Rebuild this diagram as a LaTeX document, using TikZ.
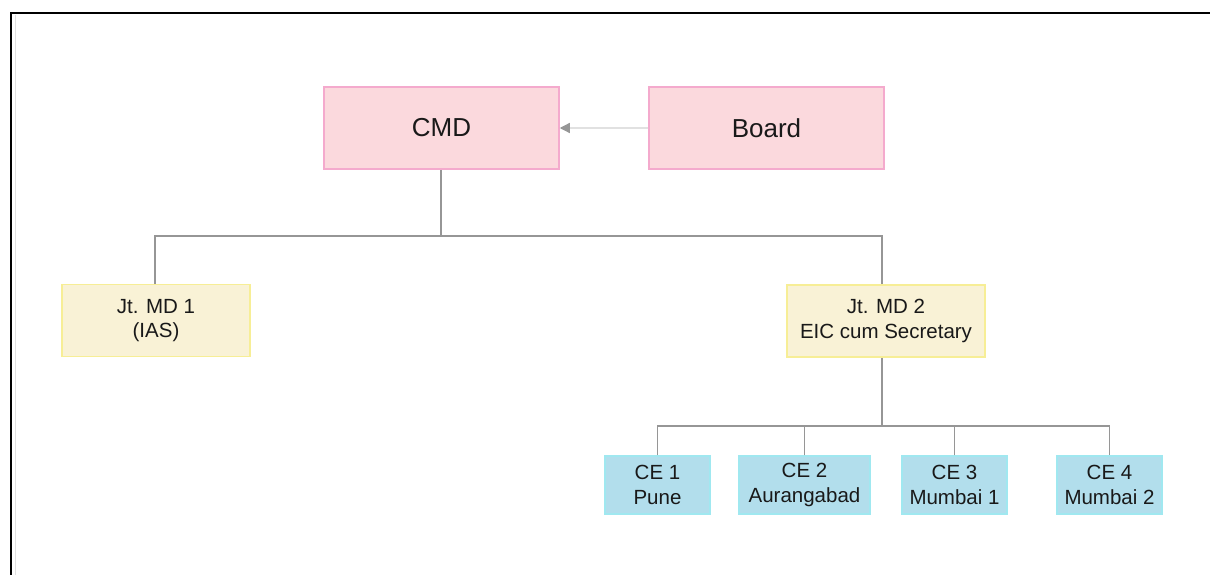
\documentclass[tikz,border=0pt]{standalone}
\usepackage{fontspec}
\setmainfont{Liberation Sans}
\usetikzlibrary{arrows.meta}
\definecolor{pinkfill}{RGB}{251,217,221}
\definecolor{pinkline}{RGB}{244,170,205}
\definecolor{yelfill}{RGB}{249,242,214}
\definecolor{yelline}{RGB}{247,238,150}
\definecolor{bluefill}{RGB}{178,222,236}
\definecolor{blueline}{RGB}{160,232,240}
\definecolor{conn}{RGB}{150,150,150}
\definecolor{arrline}{RGB}{225,225,225}
\begin{document}
\begin{tikzpicture}[x=1pt,y=-1pt,
  boxbase/.style={draw,line width=1.5pt,inner sep=0pt,align=center,text=black!90},
  topbox/.style={boxbase,fill=pinkfill,draw=pinkline,minimum width=235pt,minimum height=82pt,font=\fontsize{26}{30}\selectfont},
  mdbox/.style={boxbase,fill=yelfill,draw=yelline,minimum height=72pt,font=\fontsize{20.5}{24.5}\selectfont},
  cebox/.style={boxbase,fill=bluefill,draw=blueline,minimum height=58pt,font=\fontsize{20.5}{25}\selectfont},
  connector/.style={draw=conn,line width=1.5pt}]
\useasboundingbox (0,0) rectangle (1210,575);
\draw[line width=2.4pt,line cap=rect] (11,575) -- (11,13) -- (1210,13);
\draw[black!12,line width=1.2pt] (15.5,15) -- (15.5,575);

\node[topbox] (cmd) at (441.5,128) {CMD};
\node[topbox] (board) at (766.5,128) {Board};
\node[mdbox,minimum width=188pt] (md1) at (156,320.5) {Jt. MD 1\\(IAS)};
\node[mdbox,minimum width=198pt] (md2) at (886,321) {Jt. MD 2\\EIC cum Secretary};
\node[cebox,minimum width=105pt] (ce1) at (657.5,485) {CE 1\\Pune};
\node[cebox,minimum width=131pt] (ce2) at (804.5,485) {CE 2\\Aurangabad};
\node[cebox,minimum width=105pt] (ce3) at (954.5,485) {CE 3\\Mumbai 1};
\node[cebox,minimum width=105pt] (ce4) at (1109.5,485) {CE 4\\Mumbai 2};

\coordinate (j1) at (441,236);
\coordinate (j2) at (882,426);

\draw[arrline,line width=1.2pt,-{Triangle[length=10pt,width=10pt,color=conn]}] (board.west) -- (cmd.east);

\draw[connector] (cmd.south -| j1) -- (j1);
\draw[connector] (md1.north -| 155,0) |- (j1) -| (md2.north -| 882,0);
\draw[connector] (md2.south -| j2) -- (j2);
\draw[connector] (ce1.north) |- (j2) -| (ce4.north);
\draw[connector] (ce2.north) -- (ce2.north |- j2);
\draw[connector] (ce3.north) -- (ce3.north |- j2);
\end{tikzpicture}
\end{document}
